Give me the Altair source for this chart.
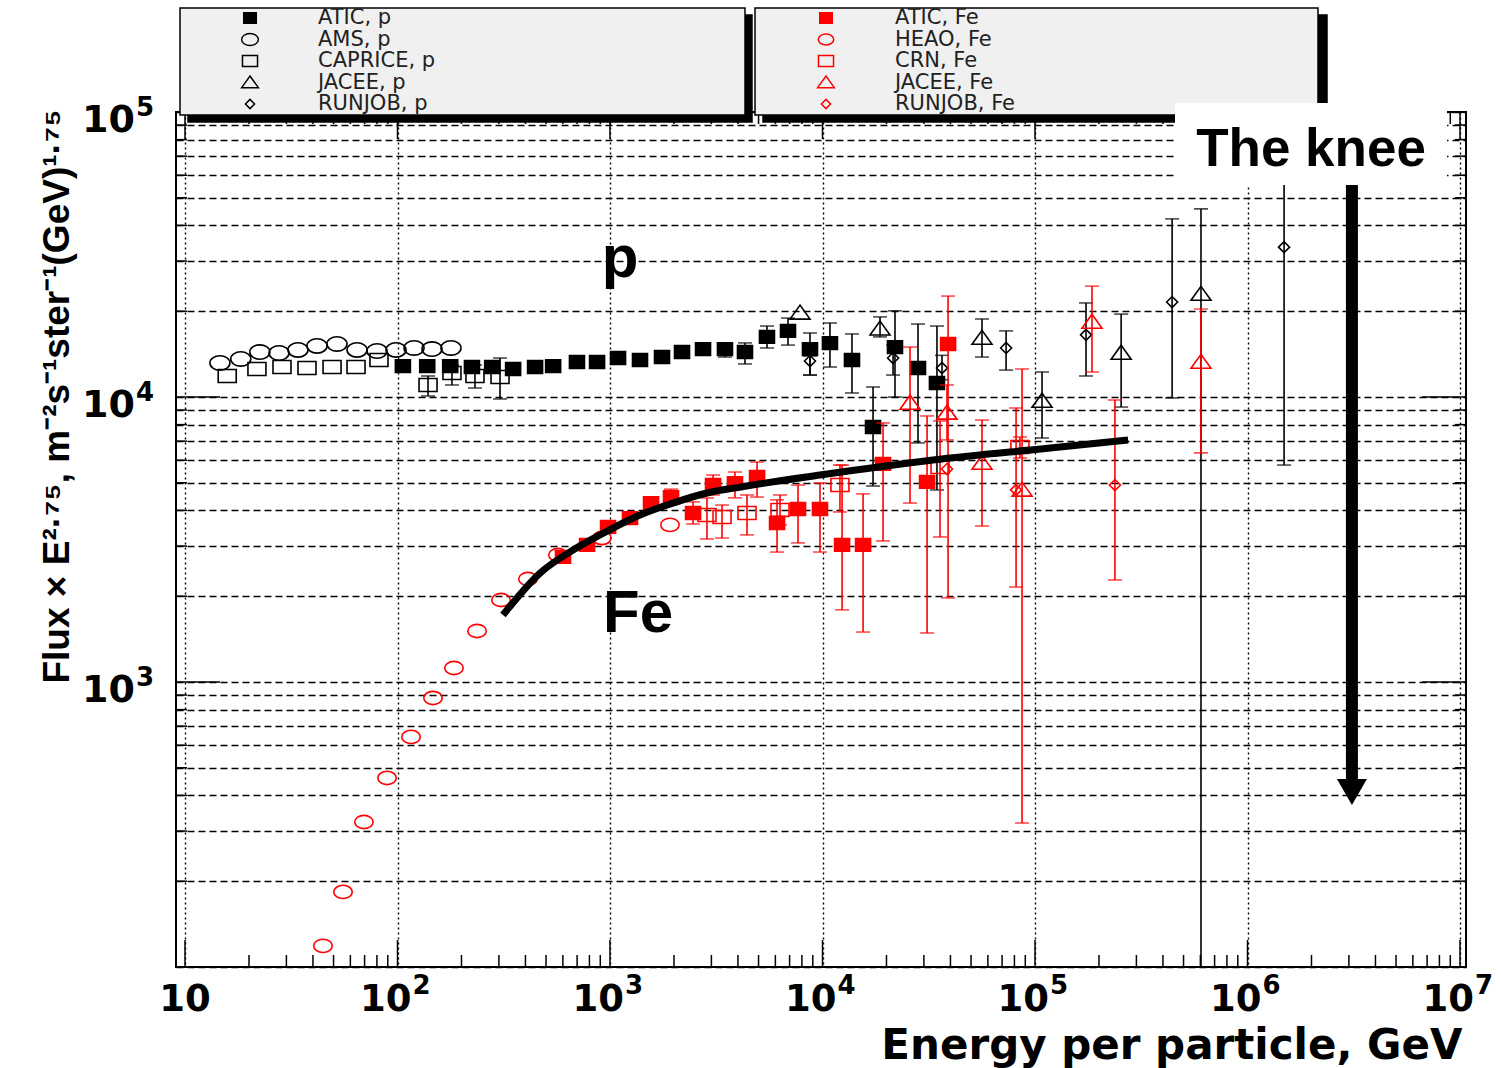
import altair as alt
import pandas as pd

W, H = 1290, 855
X_DOMAIN = [9.07, 1.067e7]
Y_DOMAIN = [100, 1e5]
FONT = "Liberation Sans"
WIDE = "DejaVu Sans"

# ---------------- data ----------------
atic_p_E = [106, 138, 177, 224, 279, 350, 444, 540, 699, 869, 1091, 1384, 1757, 2182, 2740,
            3475, 4317, 5478, 6880, 8730, 10840, 13760, 17290, 21930, 28140, 34560]
atic_p_F = [12840, 12840, 12840, 12740, 12740, 12540, 12740, 12840, 13270, 13270, 13700, 13480, 13810, 14380, 14730,
            14730, 14380, 16260, 17060, 14730, 15460, 13480, 7850, 14970, 12640, 11200]
atic_p_lo = [None, None, None, None, None, None, None, None, None, None, None, None, None, None, None,
             13810, 13060, 14860, 15210, 11940, 12740, 10330, 4870, 10000, 6900, 4720]
atic_p_hi = [None, None, None, None, None, None, None, None, None, None, None, None, None, None, None,
             15480, 15480, 17740, 18920, 16770, 18180, 16640, 10840, 20060, 18030, 17740]

ams_p_E = [14.6, 18.3, 22.5, 27.7, 34.0, 41.8, 51.9, 64.5, 80.1, 98.4, 119.6, 145.3, 178.5]
ams_p_F = [13160, 13600, 14380, 14270, 14630, 15110, 15350, 14630, 14500, 14630, 14860, 14730, 14860]

caprice_p_E = [15.8, 21.8, 28.6, 37.5, 49.2, 63.8, 81.8, 139.2, 180.4, 231.5, 303.7]
caprice_p_F = [11850, 12540, 12740, 12640, 12740, 12740, 13480, 11020, 12140, 11850, 11750]
caprice_p_lo = [None, None, None, None, None, None, None, 10080, 11020, 10750, 9840]
caprice_p_hi = [None, None, None, None, None, None, None, 11850, 12950, 12950, 13700]

jacee_p_E = [7839, 18650, 56300, 107900, 254300, 604000]
jacee_p_F = [19720, 17340, 16100, 9680, 14270, 22970]
jacee_p_lo = [None, 16250, 13810, 7180, 9220, 100]
jacee_p_hi = [None, 19100, 18780, 12240, 19540, 45700]

runjob_p_E = [8730, 21480, 36500, 73100, 173800, 441700, 1486000]
runjob_p_F = [13370, 13700, 12640, 14860, 16520, 21540, 33560]
runjob_p_lo = [11940, 11940, 11500, 12430, 11850, 9920, 5770]
runjob_p_hi = [13930, 15210, 14000, 17060, 21380, 42170, 100000]

heao_fe_E = [44.6, 55.4, 69.5, 89.3, 115.8, 146.9, 184.4, 236.8, 307.0, 411.1, 569.1, 916, 1915]
heao_fe_F = [118.6, 183.4, 322.6, 460.6, 641.6, 879, 1120, 1510, 1940, 2298, 2790, 3200, 3560]

atic_fe_E = [601, 780, 979, 1242, 1560, 1937, 2459, 3054, 3873, 4920, 6110, 7670, 9730,
             12360, 15520, 19270, 31050, 38980]
atic_fe_F = [2747, 3027, 3500, 3760, 4245, 4456, 3918, 4910, 4989, 5240, 3613, 4047, 4047,
             3027, 3027, 5826, 5036, 15350]
atic_fe_lo = [None, None, None, None, None, 4200, 3584, 4531, 4428, 4456, 2857, 3076, 2857,
              1791, 1497, 3126, 1486, 1973]
atic_fe_hi = [None, None, None, None, None, 4750, 4285, 5324, 5455, 5913, 4357, 4910, 4989,
              5770, 4571, 8110, 8580, 22600]

crn_fe_E = [2860, 3367, 4413, 6310, 12080, 35730, 84900]
crn_fe_F = [3855, 3793, 3918, 4016, 4910, 5678, 6680]
crn_fe_lo = [3176, 3200, 3282, 3558, 3950, 3228, 6110]
crn_fe_hi = [4426, 4178, 4531, 4531, 5770, 8240, 7240]

jacee_fe_E = [25820, 38540, 56300, 86900, 185400, 604000]
jacee_fe_F = [9527, 8790, 5865, 4720, 18330, 13260]
jacee_fe_lo = [4245, 7068, 3526, 320, 12240, 6365]
jacee_fe_hi = [14970, 11020, 8300, 12540, 24490, 20370]

runjob_fe_E = [38540, 81450, 237700]
runjob_fe_F = [5587, 4720, 4910]
runjob_fe_lo = [None, 2154, 2281]
runjob_fe_hi = [None, 9150, 9760]

fit_E = [313.6, 468.5, 669.9, 897.6, 1384, 1977, 2860, 4090, 9730, 33110, 117800, 274200]
fit_F = [1718, 2411, 2904, 3282, 3855, 4245, 4604, 4830, 5324, 6012, 6623, 7068]

leg_p_labels = ["ATIC, p", "AMS, p", "CAPRICE, p", "JACEE, p", "RUNJOB, p"]
leg_fe_labels = ["ATIC, Fe", "HEAO, Fe", "CRN, Fe", "JACEE, Fe", "RUNJOB, Fe"]

x_tick_vals = [10, 100, 1000, 1e4, 1e5, 1e6, 1e7]
x_tick_base = ["10", "10", "10", "10", "10", "10", "10"]
x_tick_exp = ["", "2", "3", "4", "5", "6", "7"]
y_label_vals = [1000, 1e4, 1e5]
y_label_base = ["10", "10", "10"]
y_label_exp = ["3", "4", "5"]

ann_text = ["p", "Fe"]
ann_E = [1114, 1355]
ann_F = [26370, 1497]
knee_E, knee_F = 1.99e6, 64700
arrow_E, arrow_F_top, arrow_F_bot, arrow_F_head = 3.1e6, 1e5, 450, 411

# ---------------- styles ----------------
ELL = "M-1,0A1,0.72,0,1,0,1,0A1,0.72,0,1,0,-1,0Z"
RECT_OPEN = "M-1,-0.72L1,-0.72L1,0.72L-1,0.72Z"
RECT_FILL = "M-1,-0.85L1,-0.85L1,0.85L-1,0.85Z"
TRI = "M-1,0.62L1,0.62L0,-0.78Z"
DIA = "M-1,0L0,-1L1,0L0,1Z"

series = [
    # name, group, E, F, lo, hi, shape, filled, size
    ("ATIC, p", "p", atic_p_E, atic_p_F, atic_p_lo, atic_p_hi, RECT_FILL, True, 225),
    ("AMS, p", "p", ams_p_E, ams_p_F, None, None, ELL, False, 400),
    ("CAPRICE, p", "p", caprice_p_E, caprice_p_F, caprice_p_lo, caprice_p_hi, RECT_OPEN, False, 324),
    ("JACEE, p", "p", jacee_p_E, jacee_p_F, jacee_p_lo, jacee_p_hi, TRI, False, 400),
    ("RUNJOB, p", "p", runjob_p_E, runjob_p_F, runjob_p_lo, runjob_p_hi, DIA, False, 121),
    ("ATIC, Fe", "Fe", atic_fe_E, atic_fe_F, atic_fe_lo, atic_fe_hi, RECT_FILL, True, 225),
    ("HEAO, Fe", "Fe", heao_fe_E, heao_fe_F, None, None, ELL, False, 340),
    ("CRN, Fe", "Fe", crn_fe_E, crn_fe_F, crn_fe_lo, crn_fe_hi, RECT_OPEN, False, 324),
    ("JACEE, Fe", "Fe", jacee_fe_E, jacee_fe_F, jacee_fe_lo, jacee_fe_hi, TRI, False, 400),
    ("RUNJOB, Fe", "Fe", runjob_fe_E, runjob_fe_F, runjob_fe_lo, runjob_fe_hi, DIA, False, 121),
]
GROUP_COLOR = {"p": "black", "Fe": "#ff0000"}

rows = []
for name, grp, Es, Fs, los, his, shp, filled, size in series:
    col = GROUP_COLOR[grp]
    for i in range(len(Es)):
        rows.append({
            "series": name, "grp": grp, "E": Es[i], "F": Fs[i],
            "lo": los[i] if los else None, "hi": his[i] if his else None,
            "shape": shp, "fill": col if filled else "transparent",
            "stroke": col, "size": size,
        })
df = pd.DataFrame(rows)
df_p = df[df.grp == "p"]
df_fe = df[df.grp == "Fe"]

# ---------------- scales / axes ----------------
xscale = alt.Scale(type="log", domain=X_DOMAIN, nice=False)
yscale = alt.Scale(type="log", domain=Y_DOMAIN, nice=False)

y_grid_vals = [m * 10 ** k for k in range(2, 5) for m in range(1, 10)] + [1e5]

xaxis = alt.Axis(
    values=x_tick_vals, labels=False, grid=True, gridDash=[2, 3], gridColor="black",
    gridWidth=1.4, gridOpacity=1, ticks=False, tickSize=0, domain=False,
    title="Energy per particle, GeV", titleFont=WIDE, titleFontSize=42, titleFontWeight="bold",
    titleColor="black", titleX=1286, titleY=91, titleAlign="right", titleBaseline="alphabetic",
    titleAnchor="end",
)
yaxis = alt.Axis(
    values=y_grid_vals, labels=False, grid=True, gridDash=[7, 4], gridColor="black",
    gridWidth=1.3, gridOpacity=1, ticks=False, tickSize=0, domain=False,
    title="Flux × E²·⁷⁵, m⁻²s⁻¹ster⁻¹(GeV)¹·⁷⁵",
    titleFont=FONT, titleFontSize=37, titleFontWeight="bold",
    titleColor="black", titleX=-119, titleY=284, titleAngle=270, titleAlign="center",
    titleBaseline="middle",
)


def X(field="E"):
    return alt.X(f"{field}:Q", scale=xscale, axis=xaxis)


def Y(field="F"):
    return alt.Y(f"{field}:Q", scale=yscale, axis=yaxis)


layers = []

# inward ticks
x_major = x_tick_vals
x_minor = [m * 10 ** k for k in range(1, 7) for m in range(2, 10)]
y_major = [100, 1000, 1e4, 1e5]
y_minor = [m * 10 ** k for k in range(2, 5) for m in range(2, 10)]


def xticks(vals, length, top):
    y0, y1 = (0, length) if top else (H, H - length)
    return alt.Chart(pd.DataFrame({"E": vals})).mark_rule(color="black", strokeWidth=1.5).encode(
        x=X("E"), y=alt.value(y0), y2=alt.value(y1))


def yticks(vals, length, right):
    x0, x1 = (W, W - length) if right else (0, length)
    return alt.Chart(pd.DataFrame({"F": vals})).mark_rule(color="black", strokeWidth=1.5).encode(
        y=Y("F"), x=alt.value(x0), x2=alt.value(x1))


layers += [xticks(x_major, 27, False), xticks(x_minor, 12, False),
           xticks(x_major, 27, True), xticks(x_minor, 12, True),
           yticks(y_major, 44, False), yticks(y_minor, 11, False),
           yticks(y_major, 44, True), yticks(y_minor, 11, True)]

# tick labels with real superscripts
xl = pd.DataFrame({"E": x_tick_vals, "b": x_tick_base, "e": x_tick_exp})
xl_plain = xl[xl.e == ""]
xl_pow = xl[xl.e != ""]
lab_style = dict(font=WIDE, fontWeight="bold", color="black", baseline="middle")
layers.append(alt.Chart(xl_plain).mark_text(fontSize=37, align="center", **lab_style).encode(
    x=X("E"), y=alt.value(888), text="b:N"))
layers.append(alt.Chart(xl_pow).mark_text(fontSize=37, align="right", dx=14, **lab_style).encode(
    x=X("E"), y=alt.value(888), text="b:N"))
layers.append(alt.Chart(xl_pow).mark_text(fontSize=26, align="left", dx=15, **lab_style).encode(
    x=X("E"), y=alt.value(874), text="e:N"))

yl = pd.DataFrame({"F": y_label_vals, "b": y_label_base, "e": y_label_exp})
layers.append(alt.Chart(yl).mark_text(fontSize=38, align="right", dy=9, **lab_style).encode(
    y=Y("F"), x=alt.value(-41), text="b:N"))
layers.append(alt.Chart(yl).mark_text(fontSize=26, align="left", dy=-4, dx=1, **lab_style).encode(
    y=Y("F"), x=alt.value(-41), text="e:N"))


def err_layers(d):
    base = alt.Chart(d).transform_filter("isValid(datum.lo)")
    bars = base.mark_rule(strokeWidth=1.6).encode(
        x=X("E"), y=Y("lo"), y2=alt.Y2("hi:Q"), color=alt.Color("stroke:N", scale=None))
    cap_lo = base.mark_tick(orient="horizontal", size=14, thickness=1.6).encode(
        x=X("E"), y=Y("lo"), color=alt.Color("stroke:N", scale=None))
    cap_hi = base.mark_tick(orient="horizontal", size=14, thickness=1.6).encode(
        x=X("E"), y=Y("hi"), color=alt.Color("stroke:N", scale=None))
    return [bars, cap_lo, cap_hi]


def pts(d):
    return alt.Chart(d).mark_point(strokeWidth=1.6, opacity=1).encode(
        x=X("E"), y=Y("F"),
        shape=alt.Shape("shape:N", scale=None),
        fill=alt.Fill("fill:N", scale=None),
        stroke=alt.Stroke("stroke:N", scale=None),
        size=alt.Size("size:Q", scale=None),
    )


layers += err_layers(df_p) + [pts(df_p)] + err_layers(df_fe) + [pts(df_fe)]

# fit curve
layers.append(alt.Chart(pd.DataFrame({"E": fit_E, "F": fit_F})).mark_line(
    color="black", strokeWidth=7, interpolate="monotone", strokeCap="butt").encode(x=X("E"), y=Y("F")))

# p / Fe labels
ann = pd.DataFrame({"E": ann_E, "F": ann_F, "t": ann_text})
layers.append(alt.Chart(ann).mark_text(
    font=FONT, fontSize=60, fontWeight="bold", color="black", align="center", baseline="alphabetic"
).encode(x=X("E"), y=Y("F"), text="t:N"))

# knee arrow
arr = pd.DataFrame({"E": [arrow_E], "F": [arrow_F_top], "F2": [arrow_F_bot], "Fh": [arrow_F_head]})
layers.append(alt.Chart(arr).mark_rule(color="black", strokeWidth=12).encode(
    x=X("E"), y=Y("F"), y2=alt.Y2("F2:Q")))
layers.append(alt.Chart(arr).mark_point(shape="triangle-down", filled=True, color="black",
                                        size=900, opacity=1).encode(x=X("E"), y=Y("Fh")))

# legend boxes
boxes = pd.DataFrame({
    "x": [12, 4, 587, 579], "x2": [576, 569, 1151, 1142],
    "y": [-97, -104, -97, -104], "y2": [10, 3, 10, 3],
    "fill": ["black", "#f0f0f0", "black", "#f0f0f0"],
})
layers.append(alt.Chart(boxes).mark_rect(stroke="black", strokeWidth=1.5).encode(
    x=alt.X("x:Q", scale=None, axis=None), x2="x2:Q",
    y=alt.Y("y:Q", scale=None, axis=None), y2="y2:Q",
    fill=alt.Fill("fill:N", scale=None)))

leg_rows = []
for col_i, (labels, sx, tx) in enumerate([(leg_p_labels, 74, 142), (leg_fe_labels, 650, 719)]):
    for i, lab in enumerate(labels):
        s = series[col_i * 5 + i]
        col = GROUP_COLOR[s[1]]
        leg_rows.append({"label": lab, "sx": sx, "tx": tx, "ly": -94 + i * 21.5,
                         "shape": s[6], "fill": col if s[7] else "transparent",
                         "stroke": col, "size": s[8] * 0.7})
leg = pd.DataFrame(leg_rows)
layers.append(alt.Chart(leg).mark_point(strokeWidth=1.5, opacity=1).encode(
    x=alt.X("sx:Q", scale=None, axis=None), y=alt.Y("ly:Q", scale=None, axis=None),
    shape=alt.Shape("shape:N", scale=None), fill=alt.Fill("fill:N", scale=None),
    stroke=alt.Stroke("stroke:N", scale=None), size=alt.Size("size:Q", scale=None)))
layers.append(alt.Chart(leg).mark_text(font=WIDE, fontSize=21, color="#222", align="left",
                                       baseline="middle").encode(
    x=alt.X("tx:Q", scale=None, axis=None), y=alt.Y("ly:Q", scale=None, axis=None), text="label:N"))

# knee box + text
layers.append(alt.Chart(pd.DataFrame({"a": [0]})).mark_rect(color="white").encode(
    x=alt.value(999), x2=alt.value(1271), y=alt.value(-9), y2=alt.value(73)))
layers.append(alt.Chart(pd.DataFrame({"E": [knee_E], "F": [knee_F], "t": ["The knee"]})).mark_text(
    font=FONT, fontSize=53, fontWeight="bold", color="black", align="center", baseline="alphabetic"
).encode(x=X("E"), y=Y("F"), text="t:N"))

chart = alt.layer(*layers).properties(
    width=W, height=H,
    padding={"left": 176, "top": 112, "right": 35, "bottom": 101},
    autosize=alt.AutoSizeParams(type="none"),
).configure_view(stroke="black", strokeWidth=2)

chart.save("out.html", embed_options={"renderer": "svg", "actions": False})
